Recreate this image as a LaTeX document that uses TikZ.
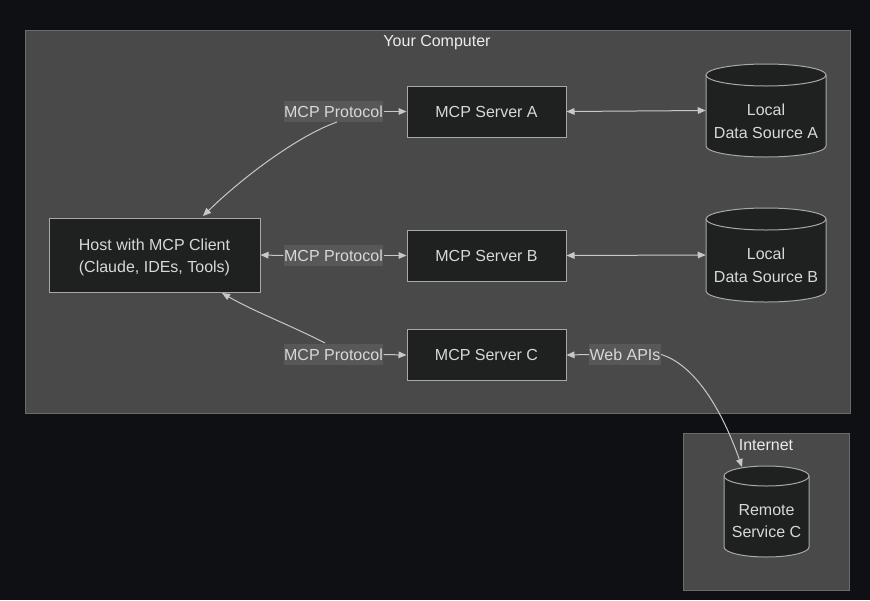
\documentclass[tikz,border=0pt]{standalone}
\usepackage{fontspec}
\setmainfont{Liberation Sans}
\usetikzlibrary{arrows.meta}
\definecolor{bgc}{HTML}{0F1013}
\definecolor{clfill}{HTML}{484948}
\definecolor{clborder}{HTML}{6A6A6A}
\definecolor{ndfill}{HTML}{1F2020}
\definecolor{ndborder}{HTML}{A8A8A8}
\definecolor{lbfill}{HTML}{585858}
\definecolor{txt}{HTML}{D8D8D8}
\definecolor{edgec}{HTML}{C8C8C8}
\tikzset{
  box/.style={draw=ndborder, fill=ndfill, line width=0.75pt, text=txt, align=center, inner sep=0pt, font=\fontsize{12}{17}\selectfont},
  cylst/.style={draw=ndborder, fill=ndfill, line width=0.75pt},
  cyltext/.style={text=txt, align=center, inner sep=0pt, font=\fontsize{12}{17}\selectfont},
  anchorbox/.style={inner sep=0pt},
  lab/.style={fill=lbfill, text=txt, inner xsep=0.4pt, inner ysep=0pt, minimum height=15.75pt, font=\fontsize{12}{14}\selectfont},
  cluster/.style={draw=clborder, fill=clfill, line width=0.75pt},
  cltitle/.style={text=white!92!black, font=\fontsize{12}{14}\selectfont, inner sep=0pt},
  arr/.style={draw=edgec, line width=0.75pt, -{Triangle[length=6pt,width=5pt]}},
  ln/.style={draw=edgec, line width=0.75pt},
}
\begin{document}
\begin{tikzpicture}[x=0.75pt,y=-0.75pt]
\useasboundingbox (0,0) rectangle (870,600);
\fill[bgc] (0,0) rectangle (870,600);
% clusters
\draw[cluster] (25,30) rectangle (850,413);
\node[cltitle] (t1) at (437,42.5) {Your Computer};
\draw[cluster] (683,433) rectangle (849,590);
\node[cltitle] (t2) at (766,445) {Internet};
% boxes
\node[box, minimum width=158.25pt, minimum height=55.5pt] (host) at (154.5,255) {};
\node[cyltext] (hostt) at (154.5,257.5) {Host with MCP Client\\(Claude, IDEs, Tools)};
\node[box, minimum width=119.25pt, minimum height=38.25pt] (sa) at (486.5,111.5) {MCP Server A};
\node[box, minimum width=119.25pt, minimum height=38.25pt] (sb) at (486.5,255.5) {MCP Server B};
\node[box, minimum width=119.25pt, minimum height=38.25pt] (sc) at (486.5,355) {MCP Server C};
% cylinder A
\path[cylst] (706,75) -- (706,146) arc[start angle=180,end angle=360,x radius=45pt,y radius=8.25pt] -- (826,75) arc[start angle=0,end angle=180,x radius=45pt,y radius=8.25pt] -- cycle;
\draw[cylst, fill=none] (706,75) arc[start angle=180,end angle=360,x radius=45pt,y radius=8.25pt];
\node[anchorbox, minimum width=90pt, minimum height=69.75pt] (dsa) at (766,110.5) {};
\node[cyltext] (dsat) at (766,121) {Local\\Data Source A};
% cylinder B
\path[cylst] (706,219) -- (706,291) arc[start angle=180,end angle=360,x radius=45pt,y radius=8.25pt] -- (826,219) arc[start angle=0,end angle=180,x radius=45pt,y radius=8.25pt] -- cycle;
\draw[cylst, fill=none] (706,219) arc[start angle=180,end angle=360,x radius=45pt,y radius=8.25pt];
\node[anchorbox, minimum width=90pt, minimum height=70.5pt] (dsb) at (766,255) {};
\node[cyltext] (dsbt) at (766,265) {Local\\Data Source B};
% cylinder Remote
\path[cylst] (724,476) -- (724,547) arc[start angle=180,end angle=360,x radius=31.875pt,y radius=7.5pt] -- (809,476) arc[start angle=0,end angle=180,x radius=31.875pt,y radius=7.5pt] -- cycle;
\draw[cylst, fill=none] (724,476) arc[start angle=180,end angle=360,x radius=31.875pt,y radius=7.5pt];
\node[anchorbox, minimum width=63.75pt, minimum height=68.25pt] (rs) at (766.5,511.5) {};
\node[cyltext] (rst) at (766.5,521) {Remote\\Service C};
\coordinate (rtop) at (742,467);
% labels
\node[lab] (l1) at (333.5,111.5) {MCP Protocol};
\node[lab] (l2) at (333.5,255.5) {MCP Protocol};
\node[lab] (l3) at (333.5,354.5) {MCP Protocol};
\node[lab] (l4) at (625,354.5) {Web APIs};
% edges
\draw[arr] (l1.east) -- (sa.west);
\draw[arr] (337,122) .. controls (300,135) and (245,175) .. (203,216);
\draw[arr] (l2.east) -- (sb.west);
\draw[arr] (l2.west) -- (host.east);
\draw[arr] (l3.east) -- (sc.west);
\draw[arr] (325,343) .. controls (290,325) and (255,312) .. (222,293);
\draw[arr] (l4.west) -- (sc.east);
\draw[arr] (l4.east) .. controls (695,365) and (722,410) .. (rtop);
\draw[arr, {Triangle[length=6pt,width=5pt]}-{Triangle[length=6pt,width=5pt]}] (sa.east) -- (dsa.west);
\draw[arr, {Triangle[length=6pt,width=5pt]}-{Triangle[length=6pt,width=5pt]}] (sb.east) -- (dsb.west);
\end{tikzpicture}
\end{document}
